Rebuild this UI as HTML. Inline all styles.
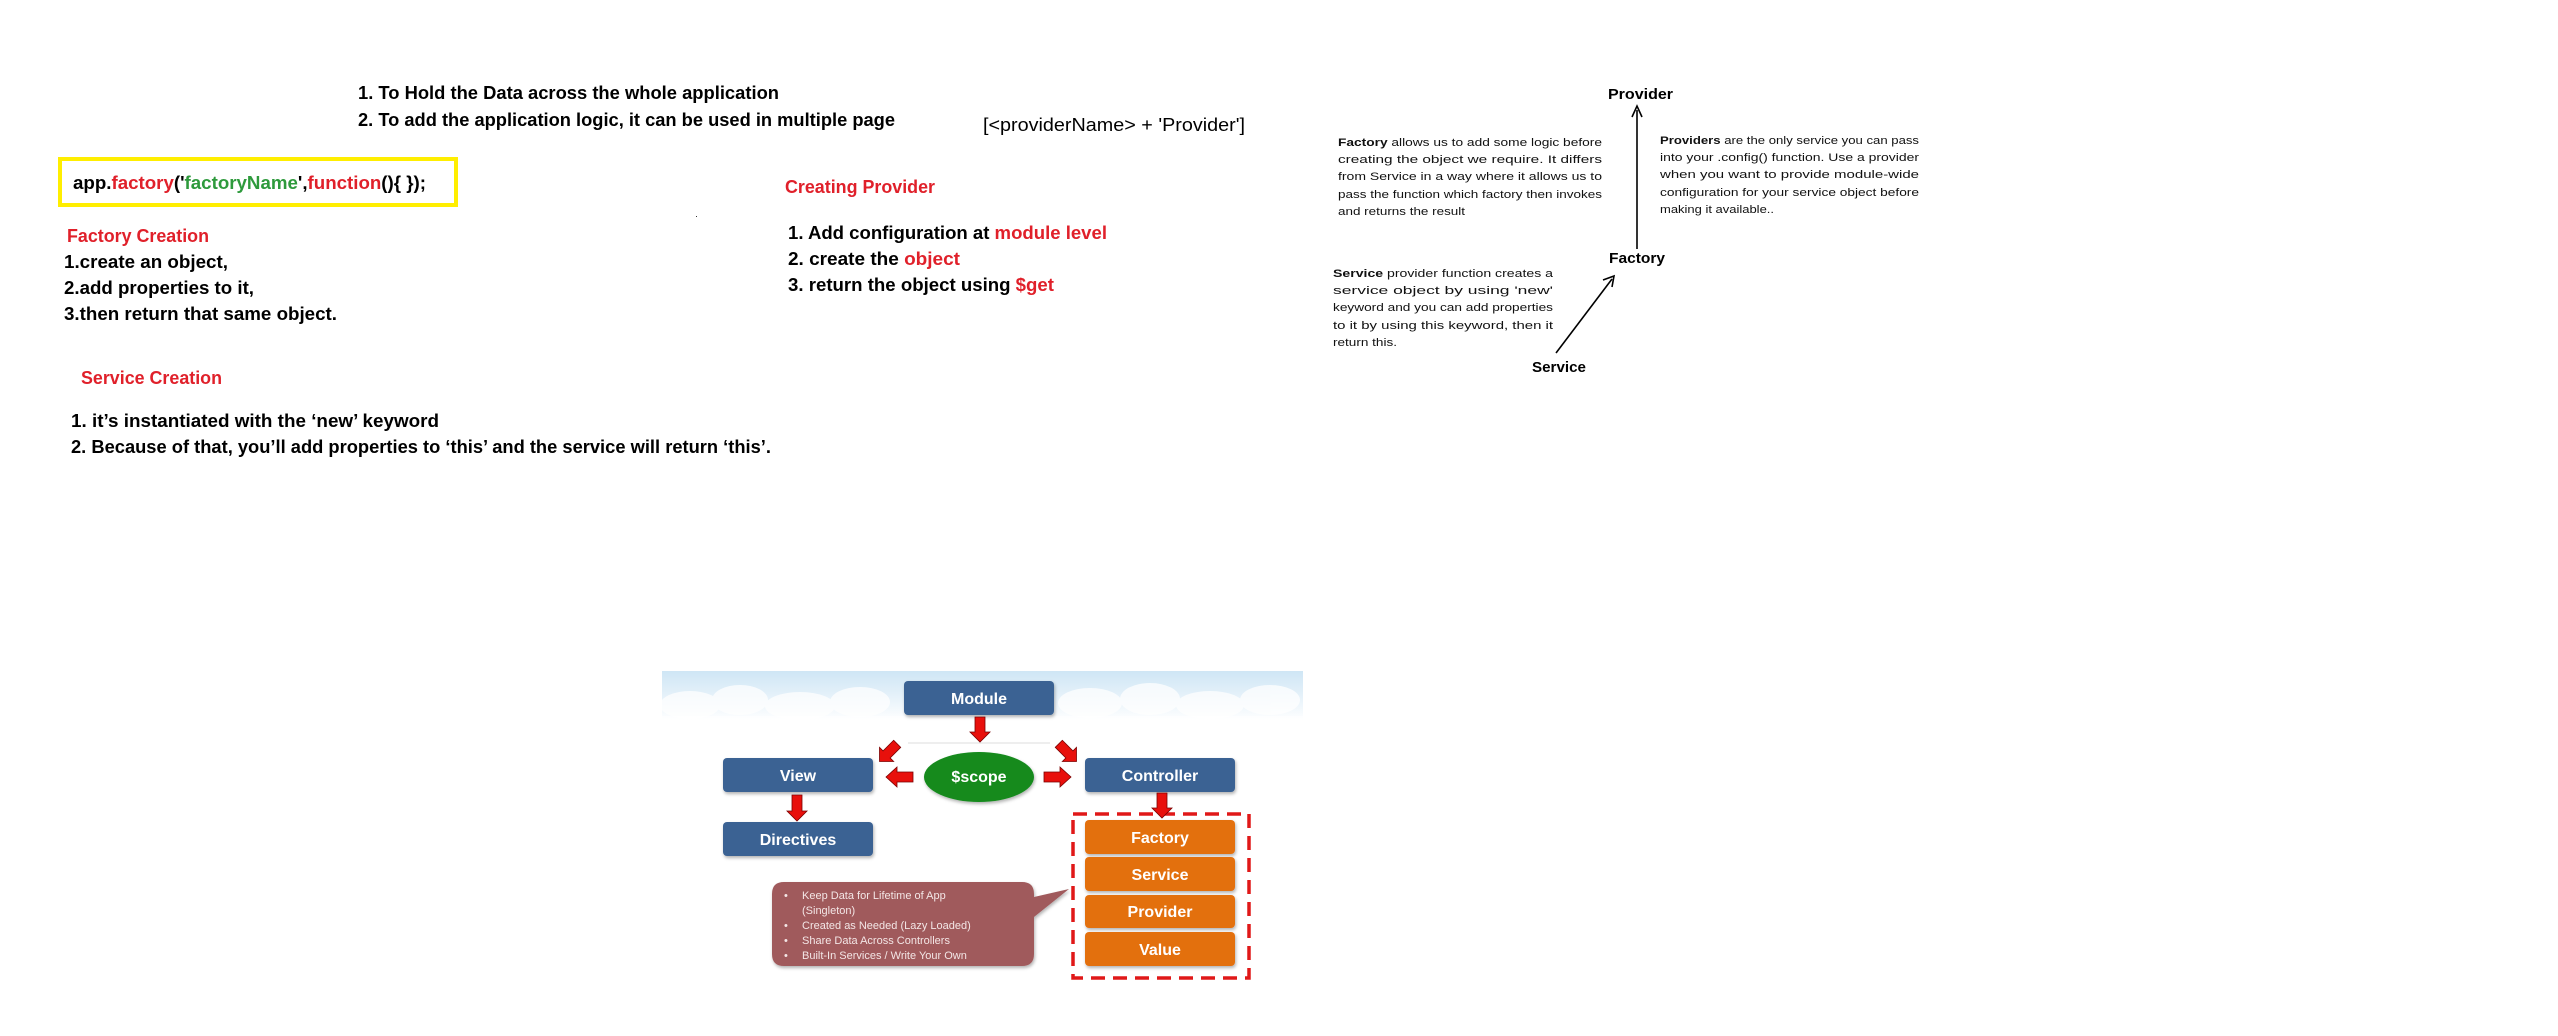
<!DOCTYPE html>
<html><head><meta charset="utf-8"><style>
html,body{margin:0;padding:0;background:#fff;}
svg{display:block;}
.c{font-family:"Liberation Sans",Arial,sans-serif;font-weight:bold;font-size:18px;fill:#000;}
.r{fill:#e0202a;}
.g{fill:#2e9a3c;}
.p{font-family:"Liberation Sans",Arial,sans-serif;font-size:11px;fill:#111;}
.w{font-family:"Liberation Sans",Arial,sans-serif;font-weight:bold;font-size:16px;fill:#fff;}
.s{font-family:"Liberation Sans",Arial,sans-serif;font-size:11px;fill:#f3e6e6;}
</style></head><body>
<svg width="2558" height="1036" viewBox="0 0 2558 1036" xmlns="http://www.w3.org/2000/svg">
<defs>
<linearGradient id="sky" x1="0" y1="0" x2="0" y2="1">
<stop offset="0" stop-color="#cfe6f5"/><stop offset="0.45" stop-color="#e3f0f9"/><stop offset="1" stop-color="#ffffff"/>
</linearGradient>
<filter id="sh" x="-10%" y="-10%" width="130%" height="140%"><feDropShadow dx="1" dy="2" stdDeviation="1.5" flood-color="#000" flood-opacity="0.3"/></filter>
</defs>

<text class="c" x="358" y="99" textLength="421" lengthAdjust="spacingAndGlyphs">1. To Hold the Data across the whole application</text>
<text class="c" x="358" y="126" textLength="537" lengthAdjust="spacingAndGlyphs">2. To add the application logic, it can be used in multiple page</text>
<text class="c" x="983" y="131" textLength="262" lengthAdjust="spacingAndGlyphs" style="font-weight:normal">[&lt;providerName&gt; + 'Provider']</text>

<rect x="60" y="159" width="396" height="46" fill="none" stroke="#ffee00" stroke-width="4"/>
<text class="c" x="73" y="189" textLength="353" lengthAdjust="spacingAndGlyphs">app.<tspan class="r">factory</tspan>('<tspan class="g">factoryName</tspan>',<tspan class="r">function</tspan>(){ });</text>

<text class="c r" x="785" y="193" textLength="150" lengthAdjust="spacingAndGlyphs">Creating Provider</text>
<text class="c" x="788" y="239" textLength="319" lengthAdjust="spacingAndGlyphs">1. Add configuration at <tspan class="r">module level</tspan></text>
<text class="c" x="788" y="265" textLength="172" lengthAdjust="spacingAndGlyphs">2. create the <tspan class="r">object</tspan></text>
<text class="c" x="788" y="291" textLength="266" lengthAdjust="spacingAndGlyphs">3. return the object using <tspan class="r">$get</tspan></text>
<rect x="696" y="216" width="1" height="1" fill="#333"/>

<text class="c r" x="67" y="242" textLength="142" lengthAdjust="spacingAndGlyphs">Factory Creation</text>
<text class="c" x="64" y="268" textLength="164" lengthAdjust="spacingAndGlyphs">1.create an object,</text>
<text class="c" x="64" y="294" textLength="190" lengthAdjust="spacingAndGlyphs">2.add properties to it,</text>
<text class="c" x="64" y="320" textLength="273" lengthAdjust="spacingAndGlyphs">3.then return that same object.</text>

<text class="c r" x="81" y="384" textLength="141" lengthAdjust="spacingAndGlyphs">Service Creation</text>
<text class="c" x="71" y="427" textLength="368" lengthAdjust="spacingAndGlyphs">1. it’s instantiated with the ‘new’ keyword</text>
<text class="c" x="71" y="453" textLength="700" lengthAdjust="spacingAndGlyphs">2. Because of that, you’ll add properties to ‘this’ and the service will return ‘this’.</text>

<text class="c" x="1608" y="99" style="font-size:15px" textLength="65" lengthAdjust="spacingAndGlyphs">Provider</text>
<line x1="1637" y1="249" x2="1637" y2="110" stroke="#000" stroke-width="1.6"/>
<polyline points="1632,117 1637,106 1642,117" fill="none" stroke="#000" stroke-width="1.6"/>
<text class="c" x="1609" y="263" style="font-size:15px" textLength="56" lengthAdjust="spacingAndGlyphs">Factory</text>
<line x1="1556" y1="353" x2="1612" y2="279" stroke="#000" stroke-width="1.6"/>
<polyline points="1603,280 1614,276 1612,287" fill="none" stroke="#000" stroke-width="1.6"/>
<text class="c" x="1532" y="372" style="font-size:15px" textLength="54" lengthAdjust="spacingAndGlyphs">Service</text>

<g class="p">
<text x="1338" y="146" textLength="264" lengthAdjust="spacingAndGlyphs"><tspan font-weight="bold">Factory</tspan> allows us to add some logic before</text>
<text x="1338" y="163" textLength="264" lengthAdjust="spacingAndGlyphs">creating the object we require. It differs</text>
<text x="1338" y="180" textLength="264" lengthAdjust="spacingAndGlyphs">from Service in a way where it allows us to</text>
<text x="1338" y="198" textLength="264" lengthAdjust="spacingAndGlyphs">pass the function which factory then invokes</text>
<text x="1338" y="215" textLength="127" lengthAdjust="spacingAndGlyphs">and returns the result</text>

<text x="1660" y="144" textLength="259" lengthAdjust="spacingAndGlyphs"><tspan font-weight="bold">Providers</tspan> are the only service you can pass</text>
<text x="1660" y="161" textLength="259" lengthAdjust="spacingAndGlyphs">into your .config() function. Use a provider</text>
<text x="1660" y="178" textLength="259" lengthAdjust="spacingAndGlyphs">when you want to provide module-wide</text>
<text x="1660" y="196" textLength="259" lengthAdjust="spacingAndGlyphs">configuration for your service object before</text>
<text x="1660" y="213" textLength="114" lengthAdjust="spacingAndGlyphs">making it available..</text>

<text x="1333" y="277" textLength="220" lengthAdjust="spacingAndGlyphs"><tspan font-weight="bold">Service</tspan> provider function creates a</text>
<text x="1333" y="294" textLength="220" lengthAdjust="spacingAndGlyphs">service object by using 'new'</text>
<text x="1333" y="311" textLength="220" lengthAdjust="spacingAndGlyphs">keyword and you can add properties</text>
<text x="1333" y="329" textLength="220" lengthAdjust="spacingAndGlyphs">to it by using this keyword, then it</text>
<text x="1333" y="346" textLength="64" lengthAdjust="spacingAndGlyphs">return this.</text>
</g>

<rect x="662" y="671" width="641" height="50" fill="url(#sky)"/>
<g fill="#fff" opacity="0.75">
<ellipse cx="690" cy="705" rx="30" ry="14"/><ellipse cx="740" cy="700" rx="28" ry="15"/><ellipse cx="800" cy="706" rx="35" ry="14"/>
<ellipse cx="860" cy="702" rx="30" ry="15"/><ellipse cx="1090" cy="703" rx="32" ry="15"/><ellipse cx="1150" cy="699" rx="30" ry="16"/>
<ellipse cx="1210" cy="705" rx="34" ry="14"/><ellipse cx="1270" cy="700" rx="30" ry="15"/>
</g>
<rect x="662" y="716" width="641" height="10" fill="#fff" opacity="0.6"/>

<line x1="908" y1="743" x2="1050" y2="743" stroke="#ddd" stroke-width="1"/>

<g filter="url(#sh)">
<rect x="904" y="681" width="150" height="34" rx="4" fill="#3a6293"/>
<rect x="723" y="758" width="150" height="34" rx="4" fill="#3a6293"/>
<rect x="1085" y="758" width="150" height="34" rx="4" fill="#3a6293"/>
<rect x="723" y="822" width="150" height="34" rx="4" fill="#3a6293"/>
<ellipse cx="979" cy="777" rx="55" ry="25" fill="#138a1e"/>
<rect x="1085" y="820" width="150" height="34" rx="4" fill="#e36f10"/>
<rect x="1085" y="857" width="150" height="34" rx="4" fill="#e36f10"/>
<rect x="1085" y="895" width="150" height="33" rx="4" fill="#e36f10"/>
<rect x="1085" y="932" width="150" height="34" rx="4" fill="#e36f10"/>
<path d="M784,882 H1022 Q1034,882 1034,894 V897 L1069,889 L1034,917 V954 Q1034,966 1022,966 H784 Q772,966 772,954 V894 Q772,882 784,882 Z" fill="#a05a5c"/>
</g>
<rect x="1073" y="814" width="176" height="164" fill="none" stroke="#e01818" stroke-width="3.5" stroke-dasharray="14,8"/>

<text class="w" x="979" y="704" text-anchor="middle">Module</text>
<text class="w" x="798" y="781" text-anchor="middle">View</text>
<text class="w" x="1160" y="781" text-anchor="middle">Controller</text>
<text class="w" x="798" y="845" text-anchor="middle">Directives</text>
<text class="w" x="979" y="782" text-anchor="middle">$scope</text>
<text class="w" x="1160" y="843" text-anchor="middle">Factory</text>
<text class="w" x="1160" y="880" text-anchor="middle">Service</text>
<text class="w" x="1160" y="917" text-anchor="middle">Provider</text>
<text class="w" x="1160" y="955" text-anchor="middle">Value</text>

<g class="s">
<text x="784" y="899">•</text><text x="802" y="899">Keep Data for Lifetime of App</text>
<text x="802" y="914">(Singleton)</text>
<text x="784" y="929">•</text><text x="802" y="929">Created as Needed (Lazy Loaded)</text>
<text x="784" y="944">•</text><text x="802" y="944">Share Data Across Controllers</text>
<text x="784" y="959">•</text><text x="802" y="959">Built-In Services / Write Your Own</text>
</g>

<g fill="#e8100c" stroke="#7a0000" stroke-width="0.8">
<polygon points="975,717 985,717 985,732 990,732 980,742 970,732 975,732"/>
<polygon points="792,795 802,795 802,811 807,811 797,821 787,811 792,811"/>
<polygon points="1157,793 1167,793 1167,808 1172,808 1162,818 1152,808 1157,808"/>
<polygon points="913,772 913,782 897,782 897,787 886,777 897,767 897,772"/>
<polygon points="1044,772 1044,782 1060,782 1060,787 1071,777 1060,767 1060,772"/>
<g transform="translate(888,753) rotate(45)"><polygon points="-5,-13 5,-13 5,2 10,2 0,12 -10,2 -5,2"/></g>
<g transform="translate(1068,753) rotate(-45)"><polygon points="-5,-13 5,-13 5,2 10,2 0,12 -10,2 -5,2"/></g>
</g>
</svg>
</body></html>
